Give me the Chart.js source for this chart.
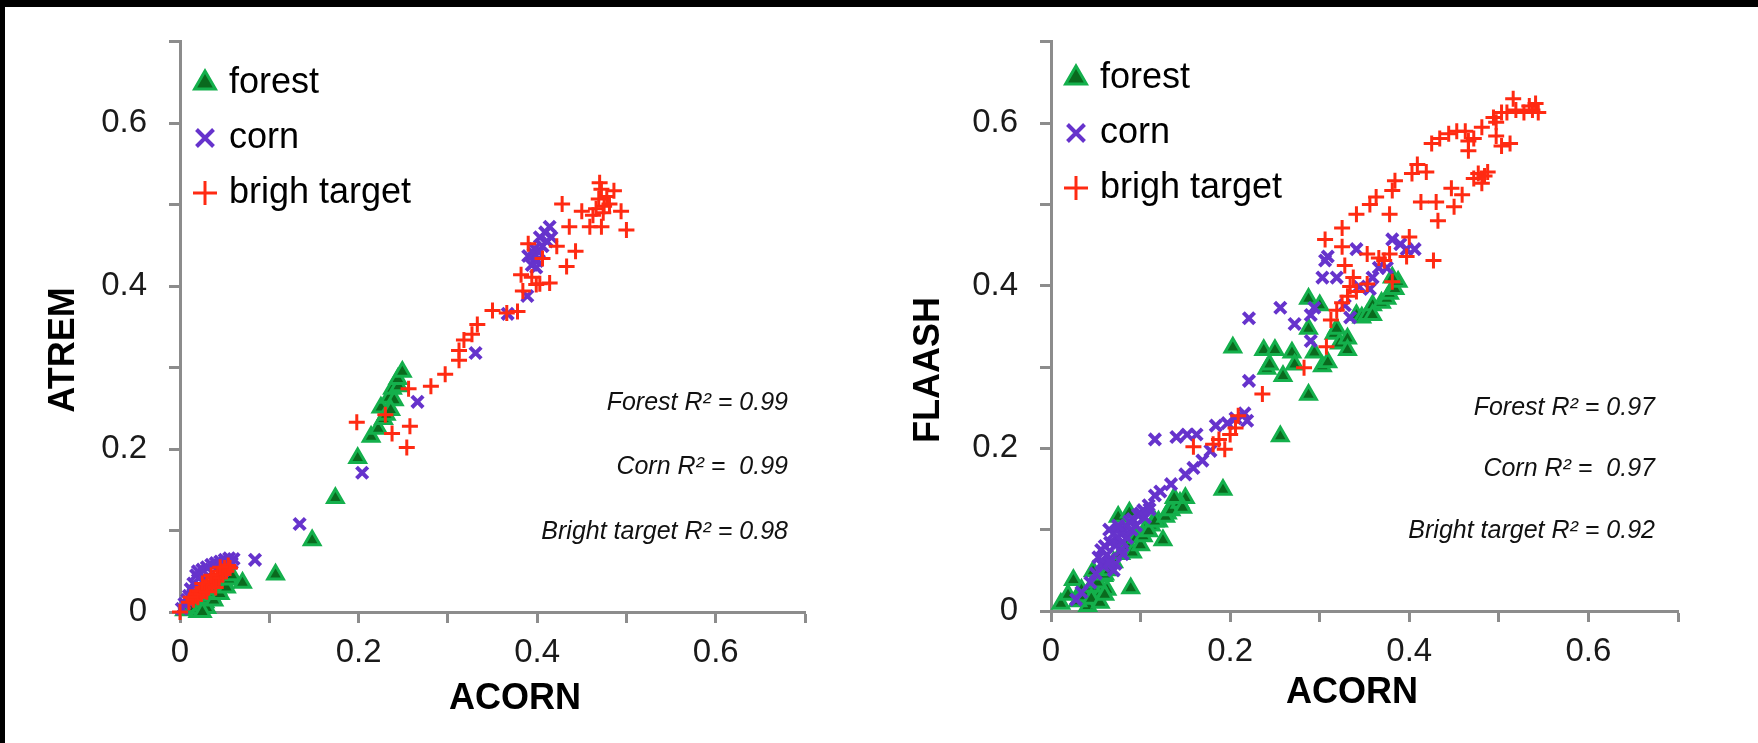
<!DOCTYPE html>
<html>
<head>
<meta charset="utf-8">
<script src="https://cdn.jsdelivr.net/npm/chart.js@4/dist/chart.umd.min.js"></script>
<style>
  html, body { margin: 0; padding: 0; background: #fff; }
  #page { position: relative; width: 1758px; height: 743px; overflow: hidden; background: #fff; }
  canvas { position: absolute; top: 0; }
  #c1 { left: 0; }
  #c2 { left: 879px; }
  .bar { position: absolute; background: #000; }
</style>
</head>
<body>
<div id="page">
  <canvas id="c1" width="879" height="743"></canvas>
  <canvas id="c2" width="879" height="743"></canvas>
  <div class="bar" style="left:0;top:0;width:1758px;height:7px"></div>
  <div class="bar" style="left:0;top:0;width:5px;height:743px"></div>
</div>
<script>
// ---- data: [ACORN, other] pairs ----
var seriesNames = ['forest', 'corn', 'brigh target'];

var forestAtrem = [
  [0.005,0.002],[0.01,0.004],[0.015,0.006],[0.02,0.0],[0.022,0.004],[0.025,0.008],[0.028,0.012],
  [0.03,0.005],[0.032,0.016],[0.035,0.02],[0.038,0.014],[0.04,0.024],[0.042,0.028],[0.045,0.022],
  [0.048,0.032],[0.05,0.036],[0.052,0.03],[0.055,0.04],[0.058,0.045],[0.025,0.0],[0.07,0.036],
  [0.107,0.046],[0.148,0.088],[0.174,0.14],[0.199,0.189],[0.214,0.215],[0.222,0.225],[0.228,0.237],
  [0.225,0.251],[0.231,0.242],[0.234,0.263],[0.24,0.26],[0.238,0.274],[0.245,0.277],[0.244,0.286],
  [0.249,0.295],[0.236,0.248]
];
var cornAtrem = [
  [0.002,0.004],[0.005,0.01],[0.008,0.015],[0.01,0.02],[0.012,0.028],[0.015,0.035],[0.018,0.045],
  [0.02,0.05],[0.025,0.052],[0.03,0.055],[0.035,0.058],[0.04,0.06],[0.045,0.062],[0.05,0.064],
  [0.055,0.066],[0.06,0.065],[0.058,0.06],[0.052,0.055],[0.048,0.05],[0.02,0.03],[0.015,0.022],
  [0.028,0.04],[0.084,0.064],[0.134,0.108],[0.204,0.171],[0.266,0.258],[0.331,0.318],[0.367,0.366],
  [0.389,0.388],[0.39,0.437],[0.394,0.426],[0.397,0.446],[0.399,0.423],[0.4,0.431],[0.403,0.46],
  [0.406,0.449],[0.409,0.466],[0.414,0.473],[0.416,0.46],[0.411,0.455],[0.396,0.44],[0.402,0.442]
];
var brightAtrem = [
  [0,0],[0.01,0.012],[0.012,0.018],[0.015,0.015],[0.018,0.022],[0.02,0.018],[0.022,0.026],
  [0.024,0.022],[0.026,0.03],[0.028,0.026],[0.03,0.034],[0.032,0.03],[0.034,0.038],[0.036,0.034],
  [0.038,0.042],[0.04,0.038],[0.042,0.046],[0.044,0.042],[0.046,0.05],[0.048,0.046],[0.05,0.054],
  [0.052,0.05],[0.054,0.057],[0.056,0.054],[0.025,0.035],[0.035,0.045],[0.045,0.055],[0.03,0.025],
  [0.04,0.03],[0.198,0.233],[0.23,0.242],[0.2375,0.219],[0.256,0.274],[0.2575,0.228],[0.254,0.202],
  [0.281,0.277],[0.297,0.292],[0.3125,0.309],[0.3125,0.321],[0.318,0.334],[0.327,0.341],[0.333,0.353],
  [0.35,0.37],[0.366,0.367],[0.378,0.369],[0.384,0.394],[0.382,0.414],[0.394,0.411],[0.399,0.402],
  [0.403,0.403],[0.414,0.404],[0.39,0.452],[0.406,0.434],[0.422,0.449],[0.433,0.424],[0.443,0.443],
  [0.436,0.473],[0.428,0.501],[0.45,0.492],[0.459,0.473],[0.472,0.473],[0.4625,0.487],[0.47,0.527],
  [0.472,0.519],[0.469,0.507],[0.475,0.498],[0.478,0.51],[0.486,0.517],[0.494,0.492],[0.5,0.469],
  [0.466,0.495],[0.474,0.49],[0.481,0.501]
];

var forestFlaash = [
  [0.011,0.009],[0.019,0.02],[0.025,0.038],[0.034,0.026],[0.041,0.006],[0.047,0.017],[0.056,0.023],
  [0.0625,0.026],[0.047,0.049],[0.059,0.043],[0.03,0.012],[0.038,0.018],[0.045,0.03],[0.052,0.035],
  [0.06,0.045],[0.065,0.05],[0.07,0.06],[0.078,0.07],[0.085,0.08],[0.095,0.09],[0.105,0.1],
  [0.112,0.105],[0.12,0.11],[0.13,0.12],[0.045,0.015],[0.055,0.01],[0.06,0.02],[0.075,0.116],
  [0.089,0.028],[0.091,0.072],[0.0875,0.121],[0.1,0.081],[0.103,0.092],[0.109,0.098],[0.116,0.11],
  [0.125,0.087],[0.128,0.116],[0.134,0.124],[0.144,0.133],[0.15,0.139],[0.147,0.127],[0.1375,0.139],
  [0.192,0.149],[0.203,0.324],[0.2375,0.321],[0.25,0.321],[0.241,0.298],[0.244,0.303],[0.259,0.289],
  [0.256,0.215],[0.269,0.318],[0.272,0.303],[0.2875,0.266],[0.2875,0.384],[0.2875,0.347],[0.294,0.318],
  [0.3,0.376],[0.303,0.301],[0.309,0.306],[0.316,0.341],[0.319,0.347],[0.322,0.329],[0.331,0.335],
  [0.331,0.321],[0.341,0.364],[0.347,0.361],[0.353,0.364],[0.359,0.376],[0.369,0.379],[0.375,0.384],
  [0.378,0.39],[0.384,0.396],[0.3875,0.405],[0.381,0.41],[0.359,0.364]
];
var cornFlaash = [
  [0.028,0.014],[0.034,0.023],[0.044,0.035],[0.05,0.046],[0.056,0.058],[0.056,0.075],[0.0625,0.069],
  [0.066,0.084],[0.072,0.081],[0.075,0.09],[0.078,0.095],[0.081,0.101],[0.084,0.104],[0.0875,0.11],
  [0.091,0.113],[0.097,0.118],[0.103,0.124],[0.109,0.13],[0.116,0.142],[0.122,0.147],[0.134,0.156],
  [0.15,0.168],[0.159,0.176],[0.169,0.185],[0.178,0.197],[0.116,0.211],[0.14,0.214],[0.152,0.217],
  [0.1625,0.217],[0.184,0.228],[0.197,0.231],[0.206,0.237],[0.216,0.243],[0.219,0.234],[0.221,0.283],
  [0.221,0.36],[0.256,0.373],[0.272,0.353],[0.29,0.332],[0.29,0.364],[0.294,0.373],[0.303,0.41],
  [0.309,0.436],[0.306,0.431],[0.319,0.41],[0.328,0.376],[0.334,0.361],[0.341,0.445],[0.344,0.399],
  [0.356,0.396],[0.359,0.41],[0.366,0.422],[0.375,0.422],[0.381,0.457],[0.39,0.451],[0.397,0.445],
  [0.406,0.445],[0.059,0.055],[0.066,0.064],[0.078,0.075],[0.072,0.058],[0.053,0.066],[0.065,0.1],
  [0.07,0.095],[0.075,0.105],[0.08,0.085],[0.085,0.09],[0.06,0.08],[0.09,0.1],[0.095,0.105],
  [0.1,0.12],[0.105,0.115],[0.11,0.125],[0.08,0.07],[0.07,0.05],[0.065,0.06]
];
var brightFlaash = [
  [0.159,0.202],[0.181,0.205],[0.1875,0.211],[0.194,0.199],[0.2,0.217],[0.206,0.225],[0.209,0.24],
  [0.236,0.267],[0.2825,0.299],[0.3075,0.325],[0.3125,0.358],[0.319,0.37],[0.325,0.379],[0.331,0.387],
  [0.334,0.399],[0.341,0.393],[0.328,0.425],[0.306,0.457],[0.325,0.448],[0.3375,0.41],[0.353,0.402],
  [0.353,0.439],[0.366,0.434],[0.372,0.431],[0.378,0.439],[0.381,0.405],[0.397,0.436],[0.4,0.46],
  [0.427,0.431],[0.325,0.471],[0.341,0.488],[0.356,0.5],[0.363,0.509],[0.378,0.488],[0.381,0.517],
  [0.384,0.529],[0.403,0.538],[0.409,0.549],[0.419,0.54],[0.413,0.503],[0.43,0.503],[0.432,0.48],
  [0.45,0.497],[0.447,0.52],[0.459,0.512],[0.425,0.575],[0.434,0.581],[0.444,0.587],[0.453,0.59],
  [0.4625,0.59],[0.466,0.578],[0.472,0.581],[0.466,0.566],[0.472,0.532],[0.477,0.538],[0.481,0.526],
  [0.4875,0.54],[0.481,0.595],[0.497,0.601],[0.497,0.584],[0.503,0.572],[0.5125,0.575],[0.494,0.607],
  [0.503,0.613],[0.516,0.63],[0.519,0.616],[0.528,0.613],[0.534,0.621],[0.541,0.624],[0.544,0.613],
  [0.5375,0.616],[0.509,0.613],[0.484,0.535]
];

var notesAtrem = ['Forest R\u00B2 = 0.99', 'Corn R\u00B2 =  0.99', 'Bright target R\u00B2 = 0.98'];
var notesFlaash = ['Forest R\u00B2 = 0.97', 'Corn R\u00B2 =  0.97', 'Bright target R\u00B2 = 0.92'];

var axisGray = '#8c8c8c';
var FONT = '"Liberation Sans", Arial, sans-serif';

function pts(arr) {
  return arr.map(function (p) { return { x: p[0], y: p[1] }; });
}

// axis titles and R² notes, drawn on top of the plot
var extraText = {
  id: 'extraText',
  afterDraw: function (chart, args, o) {
    var ctx = chart.ctx;
    ctx.save();
    ctx.fillStyle = '#000';
    ctx.textBaseline = 'middle';
    ctx.textAlign = 'center';
    ctx.font = 'bold 36px ' + FONT;
    ctx.fillText(o.xTitle, o.xTitleAt[0], o.xTitleAt[1]);
    ctx.save();
    ctx.translate(o.yTitleAt[0], o.yTitleAt[1]);
    ctx.rotate(-Math.PI / 2);
    ctx.fillText(o.yTitle, 0, 0);
    ctx.restore();
    ctx.textAlign = 'right';
    ctx.font = 'italic 25px ' + FONT;
    ctx.fillStyle = '#111';
    o.notes.forEach(function (t, i) { ctx.fillText(t, o.noteX, o.noteY[i]); });
    ctx.restore();
  }
};

function makeChart(id, forest, corn, bright, opts) {
  var tickFmt = function (v) {
    var k = Math.round(v * 10);
    return k % 2 === 0 ? String(k / 10) : '';
  };
  var axis = function (extra) {
    var a = {
      type: 'linear', min: 0, max: 0.7,
      grid: { drawOnChartArea: false, drawTicks: true, tickLength: 11, tickWidth: 3, tickColor: axisGray },
      border: { color: axisGray, width: 3 },
      ticks: { stepSize: 0.1, callback: tickFmt, color: '#1a1a1a', font: { family: FONT, size: 33 } }
    };
    for (var k in extra) a[k] = extra[k];
    return a;
  };
  var xAxis = axis({ afterFit: function (s) { s.height = opts.xHeight; } });
  xAxis.ticks.padding = 10;
  xAxis.ticks.maxRotation = 0;
  var yAxis = axis({ afterFit: function (s) { s.width = opts.yWidth; } });
  yAxis.ticks.padding = 22;

  return new Chart(document.getElementById(id), {
    type: 'scatter',
    data: {
      datasets: [{
        label: seriesNames[0],
        data: pts(forest),
        pointStyle: 'triangle',
        pointRadius: 9,
        borderWidth: 3,
        borderColor: '#14b04c',
        backgroundColor: '#0a6a1e',
        order: 2,
        clip: false
      }, {
        label: seriesNames[1],
        data: pts(corn),
        pointStyle: 'crossRot',
        pointRadius: 8,
        borderWidth: 4,
        borderColor: '#6633cc',
        backgroundColor: '#6633cc',
        order: 1,
        clip: false
      }, {
        label: seriesNames[2],
        data: pts(bright),
        pointStyle: 'cross',
        pointRadius: 8,
        borderWidth: 3,
        borderColor: '#ff2a12',
        backgroundColor: '#ff2a12',
        order: 0,
        clip: false
      }]
    },
    options: {
      responsive: false,
      animation: false,
      devicePixelRatio: 1,
      layout: { padding: opts.padding },
      scales: { x: xAxis, y: yAxis },
      plugins: {
        tooltip: { enabled: false },
        legend: {
          position: 'chartArea',
          align: 'start',
          title: { display: true, text: '', font: { size: 10 }, padding: { top: opts.legendTop, bottom: 0 } },
          labels: {
            usePointStyle: true,
            boxWidth: 12,
            boxHeight: 17,
            padding: 19,
            color: '#000',
            font: { family: FONT, size: 36 },
            sort: function (a, b) { return a.datasetIndex - b.datasetIndex; }
          }
        },
        extraText: opts.text
      }
    },
    plugins: [extraText]
  });
}

makeChart('c1', forestAtrem, cornAtrem, brightAtrem, {
  padding: { left: 0, right: 74, top: 40, bottom: 0 },
  yWidth: 180, xHeight: 131, legendTop: 34,
  text: { xTitle: 'ACORN', xTitleAt: [515, 699], yTitle: 'ATREM', yTitleAt: [64, 350],
          notes: notesAtrem, noteX: 788, noteY: [403, 467, 532] }
});

makeChart('c2', forestFlaash, cornFlaash, brightFlaash, {
  padding: { left: 0, right: 80, top: 37, bottom: 0 },
  yWidth: 172, xHeight: 132, legendTop: 29,
  text: { xTitle: 'ACORN', xTitleAt: [473, 693], yTitle: 'FLAASH', yTitleAt: [50, 370],
          notes: notesFlaash, noteX: 776, noteY: [408, 469, 531] }
});
</script>
</body>
</html>
